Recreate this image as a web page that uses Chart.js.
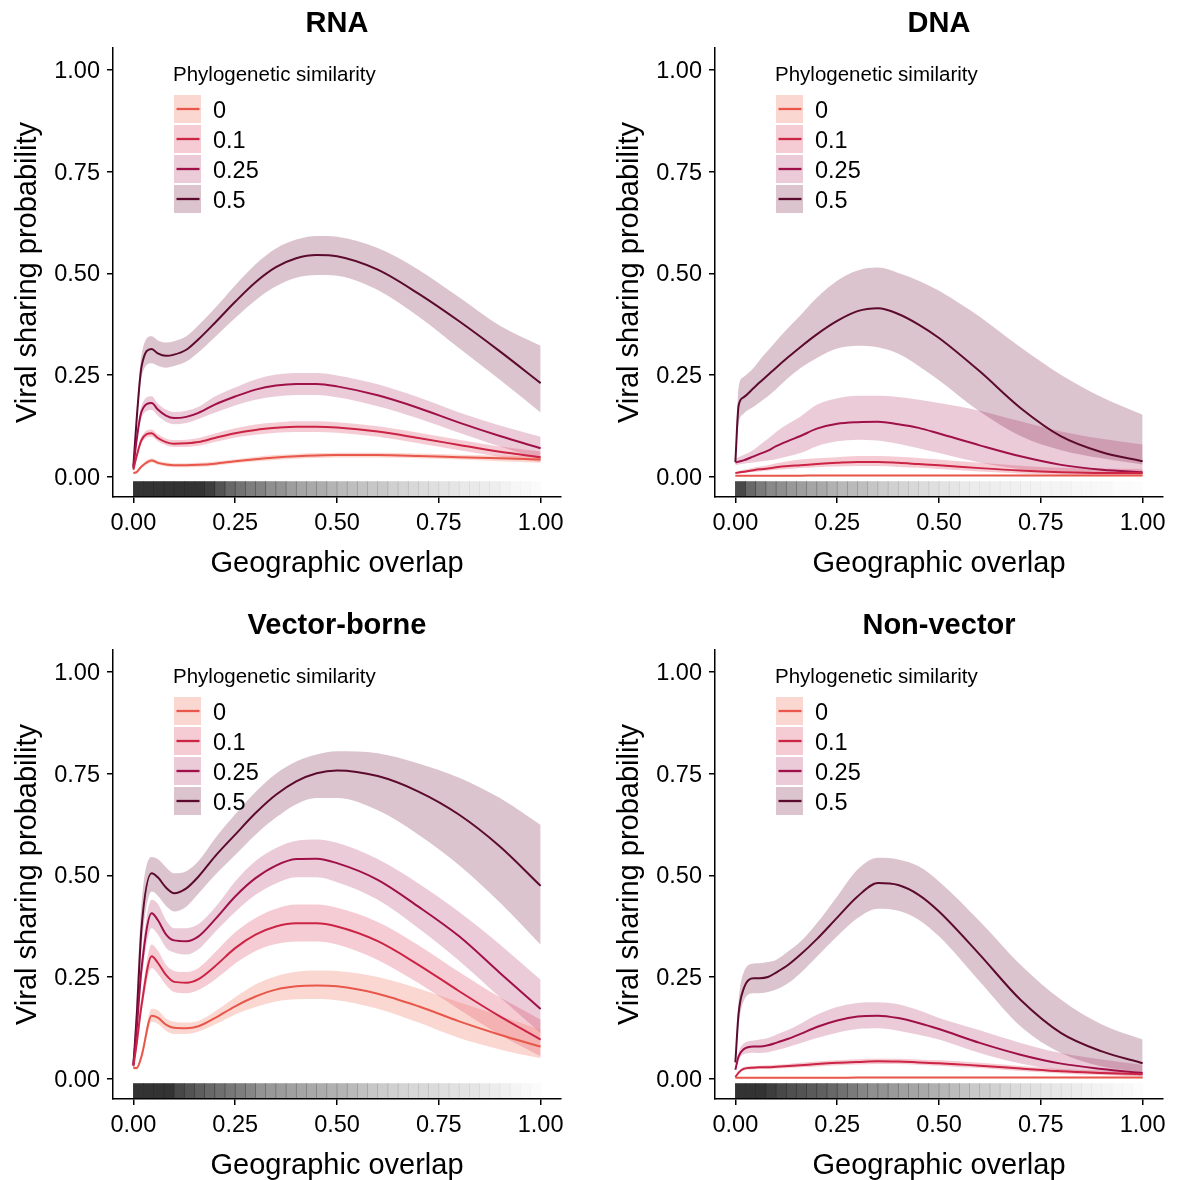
<!DOCTYPE html>
<html><head><meta charset="utf-8">
<script src="https://cdn.jsdelivr.net/npm/chart.js@4.4.1/dist/chart.umd.min.js"></script>
<style>
html,body{margin:0;padding:0;background:#fff;overflow:hidden;width:1177px;height:1180px;position:relative;}
.p{position:absolute;width:600px;height:600px;}
canvas{display:block;}
</style></head><body>
<div class="p" style="left:0;top:0"><canvas id="c0" width="600" height="600" style="width:600px;height:600px"></canvas></div>
<div class="p" style="left:602px;top:0"><canvas id="c1" width="600" height="600" style="width:600px;height:600px"></canvas></div>
<div class="p" style="left:0;top:602px"><canvas id="c2" width="600" height="600" style="width:600px;height:600px"></canvas></div>
<div class="p" style="left:602px;top:602px"><canvas id="c3" width="600" height="600" style="width:600px;height:600px"></canvas></div>
<script>
// ---------- data ----------
const PANEL_TITLES = ['RNA', 'DNA', 'Vector-borne', 'Non-vector'];
const SIMILARITY = ['0', '0.1', '0.25', '0.5'];
const LEGEND_TITLE = 'Phylogenetic similarity';
const X_TITLE = 'Geographic overlap';
const Y_TITLE = 'Viral sharing probability';
const X_TICKS = [0, 0.25, 0.5, 0.75, 1];
const X_TICK_LABELS = ['0.00', '0.25', '0.50', '0.75', '1.00'];
const Y_TICKS = [0, 0.25, 0.5, 0.75, 1];
const Y_TICK_LABELS = ['0.00', '0.25', '0.50', '0.75', '1.00'];

// geographic overlap sample points
const X = [0, 0.008, 0.02, 0.045, 0.06, 0.08, 0.1, 0.13, 0.16, 0.2, 0.25, 0.3, 0.35, 0.4, 0.45, 0.5, 0.6, 0.7, 0.8, 0.9, 1.0];

// RNA
const rna_mid_0   = [0.009, 0.011, 0.025, 0.04, 0.034, 0.03, 0.028, 0.028, 0.029, 0.032, 0.038, 0.043, 0.047, 0.05, 0.052, 0.053, 0.053, 0.051, 0.048, 0.045, 0.042];
const rna_lo_0    = [0.006, 0.008, 0.021, 0.035, 0.029, 0.025, 0.023, 0.023, 0.024, 0.027, 0.033, 0.037, 0.041, 0.044, 0.046, 0.047, 0.047, 0.045, 0.042, 0.038, 0.034];
const rna_hi_0    = [0.012, 0.014, 0.029, 0.045, 0.039, 0.035, 0.033, 0.033, 0.034, 0.037, 0.043, 0.049, 0.053, 0.056, 0.058, 0.059, 0.059, 0.057, 0.054, 0.052, 0.05];
const rna_mid_01  = [0.017, 0.05, 0.09, 0.107, 0.095, 0.085, 0.081, 0.082, 0.085, 0.095, 0.107, 0.115, 0.12, 0.123, 0.123, 0.121, 0.111, 0.095, 0.078, 0.061, 0.048];
const rna_lo_01   = [0.014, 0.044, 0.082, 0.098, 0.087, 0.077, 0.073, 0.073, 0.076, 0.085, 0.096, 0.103, 0.108, 0.11, 0.11, 0.108, 0.098, 0.082, 0.065, 0.049, 0.036];
const rna_hi_01   = [0.02, 0.056, 0.098, 0.116, 0.104, 0.094, 0.09, 0.091, 0.095, 0.106, 0.119, 0.128, 0.133, 0.136, 0.136, 0.134, 0.124, 0.108, 0.091, 0.074, 0.062];
const rna_mid_025 = [0.021, 0.09, 0.16, 0.181, 0.165, 0.15, 0.144, 0.147, 0.157, 0.177, 0.197, 0.214, 0.224, 0.228, 0.228, 0.222, 0.2, 0.169, 0.133, 0.1, 0.07];
const rna_lo_025  = [0.017, 0.08, 0.145, 0.164, 0.15, 0.135, 0.129, 0.132, 0.142, 0.157, 0.175, 0.189, 0.197, 0.201, 0.201, 0.195, 0.173, 0.143, 0.108, 0.074, 0.042];
const rna_hi_025  = [0.025, 0.1, 0.175, 0.198, 0.18, 0.165, 0.159, 0.162, 0.172, 0.197, 0.219, 0.239, 0.251, 0.255, 0.255, 0.249, 0.227, 0.195, 0.158, 0.126, 0.098];
const rna_mid_05  = [0.025, 0.14, 0.27, 0.314, 0.303, 0.297, 0.3, 0.312, 0.338, 0.378, 0.43, 0.478, 0.515, 0.537, 0.545, 0.542, 0.509, 0.45, 0.382, 0.308, 0.23];
const rna_lo_05   = [0.02, 0.12, 0.245, 0.279, 0.273, 0.268, 0.272, 0.283, 0.306, 0.343, 0.39, 0.434, 0.468, 0.489, 0.496, 0.494, 0.459, 0.394, 0.316, 0.238, 0.158];
const rna_hi_05   = [0.03, 0.16, 0.3, 0.345, 0.335, 0.33, 0.333, 0.345, 0.372, 0.414, 0.47, 0.522, 0.561, 0.583, 0.592, 0.59, 0.562, 0.509, 0.441, 0.371, 0.322];

// DNA
const dna_mid_0   = [0.002, 0.002, 0.002, 0.002, 0.002, 0.002, 0.002, 0.0025, 0.0025, 0.003, 0.003, 0.003, 0.003, 0.003, 0.003, 0.003, 0.003, 0.003, 0.003, 0.003, 0.003];
const dna_lo_0    = [0.001, 0.001, 0.001, 0.001, 0.001, 0.001, 0.001, 0.001, 0.001, 0.001, 0.001, 0.001, 0.001, 0.001, 0.001, 0.001, 0.001, 0.001, 0.001, 0.001, 0.001];
const dna_hi_0    = [0.004, 0.004, 0.004, 0.004, 0.004, 0.004, 0.004, 0.0045, 0.0045, 0.005, 0.005, 0.005, 0.005, 0.005, 0.005, 0.005, 0.005, 0.005, 0.005, 0.005, 0.005];
const dna_mid_01  = [0.009, 0.01, 0.012, 0.016, 0.018, 0.02, 0.023, 0.026, 0.028, 0.031, 0.034, 0.036, 0.036, 0.034, 0.031, 0.028, 0.021, 0.015, 0.011, 0.009, 0.009];
const dna_lo_01   = [0.007, 0.008, 0.009, 0.012, 0.013, 0.015, 0.017, 0.019, 0.021, 0.023, 0.025, 0.026, 0.026, 0.024, 0.022, 0.019, 0.013, 0.008, 0.005, 0.004, 0.003];
const dna_hi_01   = [0.012, 0.014, 0.017, 0.022, 0.025, 0.028, 0.033, 0.038, 0.042, 0.045, 0.048, 0.051, 0.051, 0.049, 0.046, 0.042, 0.034, 0.027, 0.022, 0.02, 0.019];
const dna_mid_025 = [0.035, 0.037, 0.04, 0.05, 0.056, 0.064, 0.075, 0.088, 0.1, 0.118, 0.13, 0.134, 0.135, 0.129, 0.12, 0.106, 0.077, 0.05, 0.029, 0.017, 0.011];
const dna_lo_025  = [0.028, 0.03, 0.032, 0.035, 0.037, 0.04, 0.043, 0.05, 0.058, 0.075, 0.087, 0.091, 0.089, 0.081, 0.07, 0.058, 0.035, 0.019, 0.011, 0.007, 0.005];
const dna_hi_025  = [0.045, 0.048, 0.053, 0.066, 0.078, 0.093, 0.11, 0.13, 0.148, 0.177, 0.193, 0.199, 0.199, 0.196, 0.189, 0.181, 0.162, 0.136, 0.111, 0.093, 0.079];
const dna_mid_05  = [0.036, 0.175, 0.195, 0.218, 0.232, 0.25, 0.268, 0.294, 0.319, 0.35, 0.383, 0.407, 0.414, 0.4, 0.374, 0.341, 0.259, 0.169, 0.099, 0.06, 0.038];
const dna_lo_05   = [0.03, 0.13, 0.155, 0.172, 0.183, 0.198, 0.215, 0.243, 0.267, 0.292, 0.315, 0.322, 0.318, 0.302, 0.272, 0.237, 0.16, 0.1, 0.065, 0.045, 0.03];
const dna_hi_05   = [0.045, 0.22, 0.245, 0.268, 0.287, 0.31, 0.333, 0.366, 0.397, 0.44, 0.482, 0.507, 0.514, 0.501, 0.482, 0.457, 0.393, 0.318, 0.25, 0.195, 0.152];

// Vector-borne
const vec_mid_0   = [0.026, 0.026, 0.055, 0.155, 0.15, 0.133, 0.125, 0.124, 0.129, 0.149, 0.178, 0.202, 0.219, 0.227, 0.229, 0.227, 0.209, 0.178, 0.141, 0.108, 0.079];
const vec_lo_0    = [0.022, 0.022, 0.045, 0.14, 0.135, 0.118, 0.11, 0.11, 0.116, 0.133, 0.158, 0.176, 0.19, 0.195, 0.196, 0.193, 0.172, 0.138, 0.1, 0.072, 0.05];
const vec_hi_0    = [0.03, 0.03, 0.065, 0.172, 0.168, 0.148, 0.14, 0.138, 0.142, 0.165, 0.2, 0.232, 0.252, 0.263, 0.266, 0.265, 0.25, 0.222, 0.188, 0.155, 0.12];
const vec_mid_01  = [0.03, 0.085, 0.18, 0.301, 0.285, 0.255, 0.238, 0.236, 0.245, 0.276, 0.321, 0.354, 0.374, 0.382, 0.382, 0.374, 0.338, 0.28, 0.215, 0.153, 0.096];
const vec_lo_01   = [0.025, 0.07, 0.16, 0.272, 0.258, 0.23, 0.213, 0.21, 0.218, 0.243, 0.283, 0.314, 0.331, 0.337, 0.337, 0.33, 0.292, 0.235, 0.17, 0.108, 0.055];
const vec_hi_01   = [0.035, 0.1, 0.2, 0.33, 0.315, 0.28, 0.265, 0.262, 0.272, 0.31, 0.36, 0.395, 0.418, 0.428, 0.428, 0.42, 0.385, 0.328, 0.262, 0.2, 0.145];
const vec_mid_025 = [0.034, 0.12, 0.27, 0.407, 0.39, 0.355, 0.34, 0.338, 0.35, 0.391, 0.448, 0.493, 0.524, 0.54, 0.541, 0.53, 0.489, 0.423, 0.35, 0.26, 0.171];
const vec_lo_025  = [0.028, 0.1, 0.24, 0.37, 0.355, 0.322, 0.31, 0.305, 0.318, 0.36, 0.41, 0.452, 0.48, 0.495, 0.495, 0.483, 0.44, 0.37, 0.29, 0.2, 0.112];
const vec_hi_025  = [0.04, 0.15, 0.3, 0.44, 0.43, 0.39, 0.37, 0.37, 0.38, 0.42, 0.485, 0.535, 0.567, 0.585, 0.588, 0.58, 0.54, 0.48, 0.41, 0.33, 0.243];
const vec_mid_05  = [0.034, 0.15, 0.37, 0.505, 0.495, 0.47, 0.456, 0.468, 0.497, 0.546, 0.6, 0.653, 0.698, 0.731, 0.751, 0.758, 0.744, 0.706, 0.649, 0.571, 0.474];
const vec_lo_05   = [0.028, 0.12, 0.32, 0.46, 0.45, 0.425, 0.411, 0.423, 0.455, 0.5, 0.55, 0.6, 0.642, 0.675, 0.69, 0.69, 0.66, 0.6, 0.525, 0.433, 0.329];
const vec_hi_05   = [0.04, 0.2, 0.43, 0.545, 0.54, 0.52, 0.505, 0.51, 0.535, 0.59, 0.65, 0.705, 0.75, 0.78, 0.797, 0.805, 0.8, 0.775, 0.74, 0.69, 0.624];

// Non-vector
const nv_mid_0    = [0.002, 0.002, 0.002, 0.002, 0.002, 0.002, 0.002, 0.002, 0.002, 0.002, 0.002, 0.003, 0.003, 0.003, 0.003, 0.003, 0.003, 0.003, 0.003, 0.003, 0.003];
const nv_lo_0     = [0.001, 0.001, 0.001, 0.001, 0.001, 0.001, 0.001, 0.001, 0.001, 0.001, 0.001, 0.001, 0.001, 0.001, 0.001, 0.001, 0.001, 0.001, 0.001, 0.001, 0.001];
const nv_hi_0     = [0.004, 0.004, 0.004, 0.004, 0.004, 0.004, 0.004, 0.004, 0.004, 0.004, 0.004, 0.005, 0.005, 0.005, 0.005, 0.005, 0.005, 0.005, 0.005, 0.005, 0.005];
const nv_mid_01   = [0.004, 0.015, 0.024, 0.027, 0.028, 0.028, 0.029, 0.031, 0.033, 0.036, 0.039, 0.041, 0.043, 0.042, 0.04, 0.038, 0.032, 0.025, 0.018, 0.014, 0.011];
const nv_lo_01    = [0.003, 0.012, 0.02, 0.023, 0.024, 0.024, 0.025, 0.026, 0.028, 0.03, 0.033, 0.035, 0.036, 0.036, 0.034, 0.032, 0.026, 0.019, 0.013, 0.009, 0.006];
const nv_hi_01    = [0.005, 0.018, 0.028, 0.031, 0.032, 0.033, 0.034, 0.036, 0.039, 0.042, 0.045, 0.048, 0.049, 0.049, 0.047, 0.045, 0.039, 0.031, 0.024, 0.02, 0.017];
const nv_mid_025  = [0.022, 0.055, 0.072, 0.079, 0.079, 0.082, 0.088, 0.098, 0.11, 0.127, 0.143, 0.153, 0.155, 0.149, 0.137, 0.122, 0.088, 0.059, 0.037, 0.024, 0.014];
const nv_lo_025   = [0.018, 0.045, 0.06, 0.064, 0.063, 0.065, 0.07, 0.078, 0.087, 0.1, 0.113, 0.122, 0.124, 0.118, 0.108, 0.096, 0.063, 0.037, 0.02, 0.011, 0.007];
const nv_hi_025   = [0.026, 0.065, 0.086, 0.094, 0.096, 0.1, 0.108, 0.12, 0.135, 0.157, 0.176, 0.186, 0.188, 0.183, 0.168, 0.149, 0.119, 0.088, 0.063, 0.047, 0.034];
const nv_mid_05   = [0.04, 0.161, 0.22, 0.247, 0.247, 0.25, 0.261, 0.28, 0.305, 0.343, 0.396, 0.448, 0.481, 0.476, 0.452, 0.411, 0.305, 0.194, 0.112, 0.067, 0.038];
const nv_lo_05    = [0.035, 0.13, 0.19, 0.21, 0.21, 0.213, 0.219, 0.235, 0.26, 0.3, 0.35, 0.395, 0.418, 0.413, 0.391, 0.35, 0.239, 0.129, 0.063, 0.03, 0.016];
const nv_hi_05    = [0.045, 0.19, 0.26, 0.283, 0.284, 0.287, 0.292, 0.313, 0.337, 0.382, 0.448, 0.514, 0.543, 0.539, 0.522, 0.485, 0.387, 0.28, 0.194, 0.133, 0.096];

// rug: bin centres of geographic overlap and relative density (darkness) per panel
const RUG_X = [0.0125, 0.0375, 0.0625, 0.0875, 0.1125, 0.1375, 0.1625, 0.1875, 0.2125, 0.2375,
               0.2625, 0.2875, 0.3125, 0.3375, 0.3625, 0.3875, 0.4125, 0.4375, 0.4625, 0.4875,
               0.5125, 0.5375, 0.5625, 0.5875, 0.6125, 0.6375, 0.6625, 0.6875, 0.7125, 0.7375,
               0.7625, 0.7875, 0.8125, 0.8375, 0.8625, 0.8875, 0.9125, 0.9375, 0.9625, 0.9875];
const rna_rug = [0.95, 0.95, 0.95, 0.95, 0.95, 0.95, 0.95, 0.9, 0.8, 0.7, 0.65, 0.6, 0.58, 0.52, 0.5, 0.45, 0.42, 0.4, 0.38, 0.35,
                 0.32, 0.3, 0.28, 0.26, 0.25, 0.22, 0.2, 0.18, 0.16, 0.15, 0.13, 0.12, 0.1, 0.1, 0.09, 0.08, 0.06, 0.04, 0.03, 0.02];
const dna_rug = [0.85, 0.7, 0.62, 0.55, 0.52, 0.48, 0.45, 0.42, 0.4, 0.36, 0.33, 0.32, 0.3, 0.27, 0.24, 0.22, 0.2, 0.18, 0.16, 0.15,
                 0.13, 0.12, 0.1, 0.09, 0.09, 0.08, 0.07, 0.07, 0.06, 0.06, 0.05, 0.05, 0.05, 0.04, 0.04, 0.03, 0.03, 0.02, 0.02, 0.01];
const vec_rug = [0.95, 0.95, 0.95, 0.95, 0.85, 0.8, 0.75, 0.7, 0.67, 0.63, 0.6, 0.56, 0.5, 0.48, 0.46, 0.44, 0.42, 0.4, 0.38, 0.36,
                 0.35, 0.32, 0.29, 0.26, 0.24, 0.22, 0.2, 0.19, 0.18, 0.17, 0.15, 0.14, 0.13, 0.12, 0.1, 0.09, 0.07, 0.05, 0.03, 0.02];
const nv_rug  = [0.95, 0.95, 0.95, 0.9, 0.85, 0.82, 0.8, 0.77, 0.74, 0.7, 0.66, 0.62, 0.56, 0.52, 0.5, 0.47, 0.44, 0.42, 0.4, 0.37,
                 0.34, 0.31, 0.28, 0.25, 0.23, 0.21, 0.19, 0.17, 0.15, 0.14, 0.12, 0.11, 0.1, 0.09, 0.07, 0.06, 0.05, 0.04, 0.03, 0.02];

// ---------- style ----------
const FONT = '"Liberation Sans", Arial, Helvetica, sans-serif';
const LINE_COLORS   = ['#E8574A', '#CC2444', '#A01048', '#5C0A2E'];
const RIBBON_COLORS = ['rgba(240,110,95,0.28)', 'rgba(215,50,85,0.25)', 'rgba(170,30,85,0.23)', 'rgba(110,20,55,0.25)'];
const RUG_RANGE = [-0.047, -0.012];

Chart.defaults.font.family = FONT;
Chart.defaults.color = '#000';

const panels = [
  { id: 'c0', title: PANEL_TITLES[0], mid: [rna_mid_0, rna_mid_01, rna_mid_025, rna_mid_05], lo: [rna_lo_0, rna_lo_01, rna_lo_025, rna_lo_05], hi: [rna_hi_0, rna_hi_01, rna_hi_025, rna_hi_05], rug: rna_rug },
  { id: 'c1', title: PANEL_TITLES[1], mid: [dna_mid_0, dna_mid_01, dna_mid_025, dna_mid_05], lo: [dna_lo_0, dna_lo_01, dna_lo_025, dna_lo_05], hi: [dna_hi_0, dna_hi_01, dna_hi_025, dna_hi_05], rug: dna_rug },
  { id: 'c2', title: PANEL_TITLES[2], mid: [vec_mid_0, vec_mid_01, vec_mid_025, vec_mid_05], lo: [vec_lo_0, vec_lo_01, vec_lo_025, vec_lo_05], hi: [vec_hi_0, vec_hi_01, vec_hi_025, vec_hi_05], rug: vec_rug },
  { id: 'c3', title: PANEL_TITLES[3], mid: [nv_mid_0, nv_mid_01, nv_mid_025, nv_mid_05], lo: [nv_lo_0, nv_lo_01, nv_lo_025, nv_lo_05], hi: [nv_hi_0, nv_hi_01, nv_hi_025, nv_hi_05], rug: nv_rug }
];

const pts = arr => X.map((x, i) => ({ x: x, y: arr[i] }));

const ggLegend = {
  id: 'ggLegend',
  afterDraw(chart) {
    const ctx = chart.ctx;
    ctx.save();
    ctx.textAlign = 'left';
    ctx.textBaseline = 'alphabetic';
    ctx.fillStyle = '#000';
    ctx.font = '20.5px ' + FONT;
    ctx.fillText(LEGEND_TITLE, 173, 80.5);
    SIMILARITY.forEach((s, k) => {
      const top = 95 + 30 * k;
      ctx.fillStyle = RIBBON_COLORS[k];
      ctx.fillRect(174, top, 27, 28);
      ctx.strokeStyle = LINE_COLORS[k];
      ctx.lineWidth = 2.3;
      ctx.beginPath();
      ctx.moveTo(176.5, top + 14);
      ctx.lineTo(199.5, top + 14);
      ctx.stroke();
      ctx.fillStyle = '#000';
      ctx.font = '23.5px ' + FONT;
      ctx.fillText(s, 213, top + 23);
    });
    ctx.restore();
  }
};

panels.forEach(p => {
  const datasets = [];
  SIMILARITY.forEach((s, k) => {
    datasets.push({ type: 'line', label: s + ' lower', data: pts(p.lo[k]), borderWidth: 0, borderColor: 'rgba(0,0,0,0)',
      backgroundColor: RIBBON_COLORS[k], pointRadius: 0, fill: false, cubicInterpolationMode: 'monotone', order: 20 });
    datasets.push({ type: 'line', label: s + ' upper', data: pts(p.hi[k]), borderWidth: 0, borderColor: 'rgba(0,0,0,0)',
      backgroundColor: RIBBON_COLORS[k], pointRadius: 0, fill: '-1', cubicInterpolationMode: 'monotone', order: 20 });
  });
  SIMILARITY.forEach((s, k) => {
    datasets.push({ type: 'line', label: s, data: pts(p.mid[k]), borderWidth: 2, borderColor: LINE_COLORS[k],
      pointRadius: 0, fill: false, cubicInterpolationMode: 'monotone', order: 1 });
  });
  datasets.push({ type: 'bar', label: 'rug', data: RUG_X.map(x => ({ x: x, y: RUG_RANGE })),
    backgroundColor: p.rug.map(a => 'rgba(40,40,40,' + a + ')'), borderWidth: 0,
    barPercentage: 1, categoryPercentage: 1, order: 10 });

  new Chart(document.getElementById(p.id), {
    type: 'line',
    data: { datasets: datasets },
    plugins: [ggLegend],
    options: {
      responsive: false,
      animation: false,
      devicePixelRatio: 1,
      layout: { padding: { left: 0, right: 39, top: 0, bottom: 0 } },
      plugins: {
        legend: { display: false },
        tooltip: { enabled: false },
        filler: { drawTime: 'beforeDatasetsDraw' },
        title: { display: true, text: p.title, fullSize: false, color: '#000',
          font: { size: 29, weight: 'bold', family: FONT }, padding: { top: 7, bottom: 6.2 } }
      },
      scales: {
        x: {
          type: 'linear', min: -0.05, max: 1.05, offset: false,
          afterBuildTicks: s => { s.ticks = X_TICKS.map(v => ({ value: v })); },
          afterFit: s => { s.height = 103; },
          ticks: { callback: v => X_TICK_LABELS[X_TICKS.indexOf(v)], color: '#000', font: { size: 23.5 }, padding: 6, maxRotation: 0, autoSkip: false },
          grid: { display: true, drawOnChartArea: false, drawTicks: true, tickLength: 6, color: '#000', lineWidth: 1.5, offset: false },
          border: { display: true, color: '#000', width: 1.5 },
          title: { display: true, text: X_TITLE, color: '#000', font: { size: 29 }, padding: { top: 0, bottom: 19 } }
        },
        y: {
          type: 'linear', min: -0.05, max: 1.054,
          afterBuildTicks: s => { s.ticks = Y_TICKS.map(v => ({ value: v })); },
          afterFit: s => { s.width = 113; },
          ticks: { callback: v => Y_TICK_LABELS[Y_TICKS.indexOf(v)], color: '#000', font: { size: 23.5 }, padding: 7, labelOffset: 1.5 },
          grid: { display: true, drawOnChartArea: false, drawTicks: true, tickLength: 6, color: '#000', lineWidth: 1.5 },
          border: { display: true, color: '#000', width: 1.5 },
          title: { display: true, text: Y_TITLE, color: '#000', font: { size: 29 }, padding: { top: 11, bottom: 0 } }
        }
      }
    }
  });
});
</script>
</body></html>
